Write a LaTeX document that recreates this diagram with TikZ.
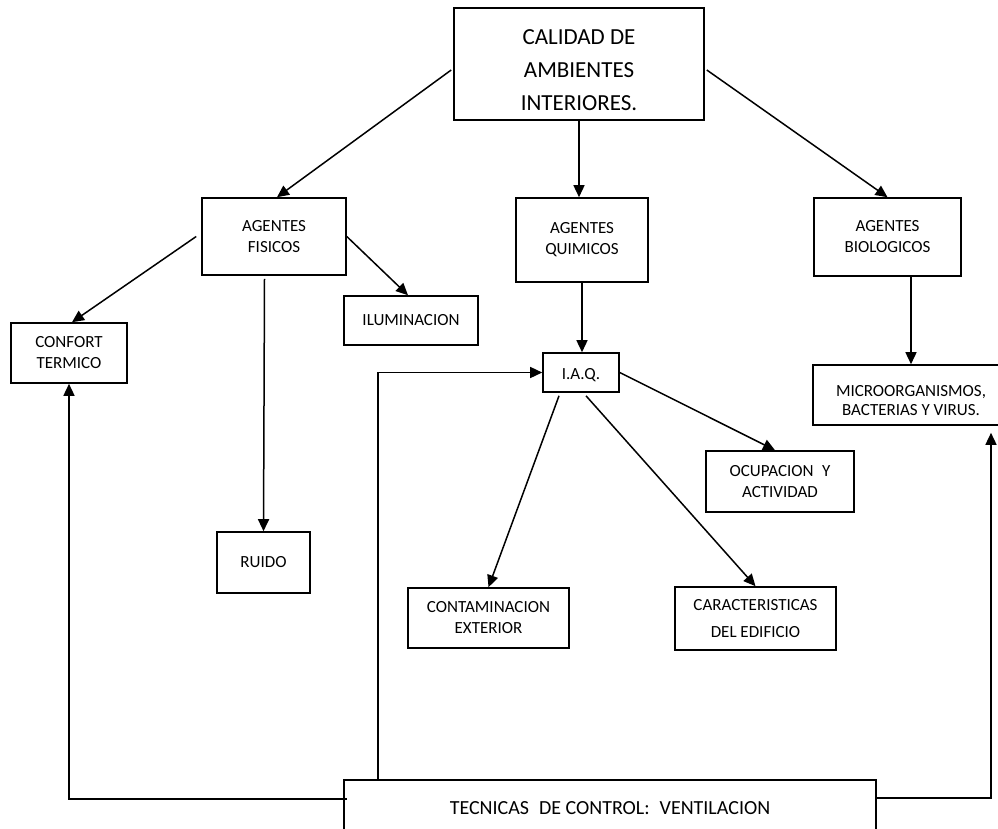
\documentclass[tikz,border=0pt]{standalone}
\usepackage{fontspec}
\setmainfont{Carlito}
\usetikzlibrary{arrows.meta,calc}
\begin{document}
\begin{tikzpicture}[x=1pt,y=-1pt,
  box/.style={draw=black, line width=1.6pt, rectangle, align=center, inner sep=0pt,
              font=\fontsize{17}{21}\selectfont},
  frame/.style={draw=black, line width=1.6pt, rectangle, inner sep=0pt},
  txt/.style={align=center, inner sep=0pt},
  link/.style={line width=1.5pt, -{Triangle[length=12pt,width=11pt]}},
  wire/.style={line width=1.5pt}]
\clip (0,0) rectangle (998,828);
\fill[white] (0,0) rectangle (998,828);

% main concept
\node[frame, minimum width=250pt, minimum height=112pt] (cal) at (579,64) {};
\node[txt, font=\fontsize{23}{33}\selectfont] (calt) at (579,70) {CALIDAD DE\\AMBIENTES\\INTERIORES.};

% agents
\node[box, minimum width=144pt, minimum height=77pt] (fis) at (274,236.5) {AGENTES\\FISICOS};
\node[box, minimum width=132pt, minimum height=84pt] (qui) at (582,240) {AGENTES\\QUIMICOS};
\node[box, minimum width=147pt, minimum height=78pt] (bio) at (887.5,237) {AGENTES\\BIOLOGICOS};

% physical agents
\node[box, minimum width=116pt, minimum height=60pt] (conf) at (69,353) {CONFORT\\TERMICO};
\node[box, minimum width=134pt, minimum height=49pt] (ilu) at (411,320.5) {ILUMINACION};
\node[box, minimum width=93pt, minimum height=61pt] (ruido) at (263.5,562.5) {RUIDO};

% chemical agents
\node[box, minimum width=76pt, minimum height=39pt] (iaq) at (581,372.5) {\raisebox{-3pt}[\height][\depth]{I.A.Q.}};
\node[box, minimum width=148pt, minimum height=61pt] (ocup) at (780,481.5) {OCUPACION\enspace Y\\ACTIVIDAD};
\node[box, minimum width=161pt, minimum height=60pt] (cont) at (488.5,618) {CONTAMINACION\\EXTERIOR};
\node[box, minimum width=161pt, minimum height=63pt] (carac) at (755.5,618.5) {CARACTERISTICAS\\[6pt]DEL EDIFICIO};

% biological agents
\node[frame, minimum width=196pt, minimum height=60pt] (micro) at (911,395) {};
\node[txt, font=\fontsize{17}{19}\selectfont] (microt) at (911,401) {MICROORGANISMOS,\\BACTERIAS Y VIRUS.};

% control techniques
\node[box, minimum width=532pt, minimum height=56pt, font=\fontsize{20}{24}\selectfont] (tec) at (610,808) {TECNICAS\enspace DE CONTROL:\enspace VENTILACION};

% hierarchy arrows
\draw[link] ($(cal.west)+(-2,6)$) -- ($(fis.north)+(3,0)$);
\draw[link] (cal.south) -- (cal.south |- qui.north);
\draw[link] ($(cal.east)+(2,6)$) -- (bio.north);

\draw[link] ($(fis.west)+(-5,0)$) -- ($(conf.north)+(3,0)$);
\draw[link] (fis.east) -- ($(ilu.north)+(-3,0)$);
\draw[link] ($(ruido.north |- fis.south)+(1,3)$) -- (ruido.north);

\draw[link] (qui.south) -- (qui.south |- iaq.north);
\draw[link] (micro.north |- bio.south) -- (micro.north);

\draw[link] (iaq.east) -- ($(ocup.north)+(-5,0)$);
\draw[link] ($(iaq.south)+(-22,3)$) -- (cont.north);
\draw[link] ($(iaq.south)+(5,3)$) -- (carac.north);

% feedback from control techniques
\coordinate (tipR) at ($(micro.south)+(80,7)$);
\draw[link] ($(tec.north west)+(4,20)$) -| (conf.south);
\draw[link] ($(tec.north west)+(35,0)$) |- (iaq.west);
\draw[link] ($(tec.north east)+(0,19)$) -| (tipR);
\end{tikzpicture}
\end{document}
